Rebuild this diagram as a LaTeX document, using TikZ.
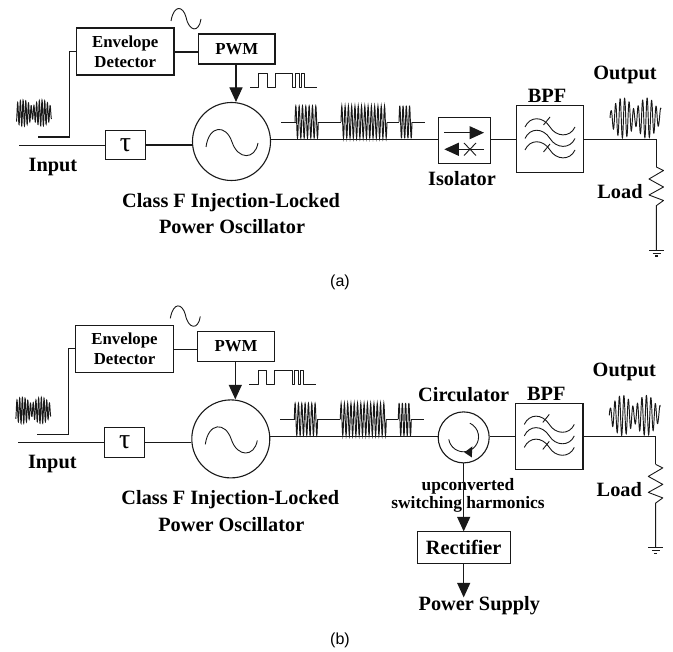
\documentclass[tikz,border=0pt]{standalone}
\usepackage{fontspec}
\setmainfont{Liberation Serif}
\newfontfamily\labelsans{Liberation Sans}
\usetikzlibrary{arrows.meta}
\tikzset{
  wire/.style={line width=1.1pt,draw=black!90},
  thinw/.style={line width=0.9pt,draw=black!90,line join=round},
  wavew/.style={line width=0.95pt,draw=black!90},
  blockbox/.style={draw=black!90,line width=1.1pt,inner sep=0pt,align=center,font=\fontsize{16.8}{20}\bfseries},
  lab/.style={inner sep=0pt,align=center,font=\fontsize{20.3}{26}\bfseries},
  headw/.style={wire,-{Triangle[length=14.5pt,width=13pt]}},
}
% burst from x0 to x1, n cycles
\newcommand{\waveburst}[3]{\draw[wavew] plot[domain=0:1,samples=169] ({#1+\x*(#2-#1)},{122-16*sin(360*#3*\x)});}
\newcommand{\scurve}[1]{\draw[thinw] (525,#1) .. controls (530,#1-11) and (543,#1-11) .. (550,#1) .. controls (556,#1+10) and (570,#1+11) .. (575,#1);}
\newcommand{\sharedpanel}{
  \node[blockbox,minimum width=97.5pt,minimum height=47pt] (env) at (125.25,51.5) {Envelope\\Detector};
  \node[blockbox,minimum width=76.5pt,minimum height=30pt] (pwm) at (236.75,49) {PWM};
  \node[blockbox,minimum width=40pt,minimum height=29.5pt,font=\fontsize{28}{28}\selectfont] (tau) at (125.5,145) {τ};
  \node[draw=black!90,line width=1.1pt,circle,minimum size=78pt,inner sep=0pt] (osc) at (231.5,141.5) {};
  \node[blockbox,minimum width=67.4pt,minimum height=66.3pt] (bpf) at (550,139) {};
  \coordinate (inl) at (19,145.4);
  \coordinate (det) at (38,137);
  \coordinate (corner) at (69.5,137);
  \coordinate (arrstart) at (236,64);
  \coordinate (loadtop) at (656.3,139.5);
  \coordinate (restop) at (656.3,167);
  \coordinate (resbot) at (656.3,205.7);
  \coordinate (gnd) at (656.3,250.5);
  \coordinate (envout) at (174,52);
  \draw[wire] (inl) -- (tau.west |- inl);
  \draw[wire] (tau.east) -- (osc.west |- tau.east);
  \draw[wire] (det) -- (corner) |- (env.west);
  \draw[wire] (envout) -- (pwm.west |- envout);
  \draw[headw] (pwm.south -| arrstart) -- (osc.north -| arrstart);
  \draw[wire] (bpf.east |- loadtop) -- (loadtop) -- (restop);
  \draw[thinw] (restop) -- (663.5,170.5) -- (649,179) -- (663.5,187) -- (649,195) -- (663.5,200.5) -- (resbot) -- (gnd);
  \draw[wire] (649,250.5) -- (663.5,250.5) (652.7,253.3) -- (660.7,253.3) (655,256) -- (658,256);
  % envelope sine
  \draw[thinw] (171,21) .. controls (174,4) and (183,6) .. (186,17) .. controls (189,32) and (199,33) .. (201,19);
  % oscillator sine
  \draw[thinw] (206,147) .. controls (209,125) and (226,124) .. (232,142) .. controls (238,160) and (255,160) .. (258,143);
  % pwm pulse train
  \draw[thinw] (250,87) -- (258.7,87) -- (258.7,73.5) -- (267,73.5) -- (267,87) -- (275.3,87) -- (275.3,73.5) -- (292.7,73.5) -- (292.7,87) -- (295.3,87) -- (295.3,73.5) -- (299,73.5) -- (299,87) -- (301,87) -- (301,73.5) -- (304,73.5) -- (304,87) -- (317,87);
  % input waveform
  \draw[wavew] plot[domain=16.5:51.5,samples=300] (\x,{113-(6+7*abs(cos(9.5*(\x-23))))*sin(133*(\x-17))});
  % switched bursts
  \draw[thinw] (281,122) -- (296,122) (318,122) -- (341,122) (387,122) -- (399,122) (412,122) -- (424.7,122);
  \waveburst{295}{318.3}{7}
  \waveburst{341}{387}{14}
  \waveburst{399}{412}{4}
  % output waveform
  \draw[wavew] plot[domain=610:661,samples=400] (\x,{118-(7+13*abs(cos(7.5*(\x-623))))*sin(80*(\x-610))});
  % filter symbols
  \scurve{127}\scurve{138.5}\scurve{150}
  \draw[thinw] (543.5,125) -- (550,117) (543.5,152) -- (550,144);
  % labels
  \node[lab] (inputlab) at (53,167) {Input};
  \node[lab] (classlab) at (231,202.5) {Class F Injection-Locked};
  \node[lab] (osclab) at (232,227) {Power Oscillator};
  \node[lab] (bpflab) at (547,96) {BPF};
  \node[lab] (outlab) at (625,75) {Output};
  \node[lab] (loadlab) at (620,192) {Load};
}
\begin{document}
\begin{tikzpicture}[x=1pt,y=-1pt]
\useasboundingbox (0,0) rectangle (673,652);
\fill[white] (0,0) rectangle (673,652);
\begin{scope}[name prefix=a-]
  \sharedpanel
  \node[blockbox,minimum width=52.4pt,minimum height=46.3pt] (iso) at (464.5,140.8) {};
  \draw[wire] (osc.east |- loadtop) -- (iso.west |- loadtop);
  \draw[wire] (iso.east |- loadtop) -- (bpf.west |- loadtop);
  \coordinate (t1) at (444.3,132.7);
  \coordinate (t2) at (484,132.7);
  \coordinate (b1) at (484,149.3);
  \coordinate (b2) at (444.3,149.3);
  \draw[headw] (t1) -- (t2);
  \draw[headw] (b1) -- (b2);
  \draw[thinw] (464,143) -- (476,155.5) (476,143) -- (464,155.5);
  \node[lab] (isolab) at (462,179) {Isolator};
\end{scope}
\node[inner sep=0pt,font=\fontsize{16}{18}\labelsans] (capa) at (340,282) {(a)};
\begin{scope}[shift={(-0.7,297.4)},name prefix=b-]
  \sharedpanel
  \node[draw=black!90,line width=1.1pt,circle,minimum size=51pt,inner sep=0pt] (circ) at (464.4,140) {};
  \node[blockbox,minimum width=93.3pt,minimum height=31.3pt,font=\fontsize{20.3}{24}\bfseries] (rect) at (464.4,250.2) {Rectifier};
  \node[lab] (circlab) at (464.4,97) {Circulator};
  \node[lab,font=\fontsize{17.4}{17.4}\bfseries] (uplab) at (468.7,198) {upconverted\\switching harmonics};
  \node[lab] (pslab) at (480,308) {Power Supply};
  \coordinate (psarrow) at (464.4,300);
  \draw[wire] (osc.east |- loadtop) -- (circ.west |- loadtop);
  \draw[wire] (circ.east |- loadtop) -- (bpf.west |- loadtop);
  \draw[thinw] (449.5,142) arc[start angle=170,end angle=-65,radius=15];
  \fill[black!90] (465,155) -- (473,149) -- (472.5,160) -- cycle;
  \draw[headw] (circ.south) -- (circ.south |- rect.north);
  \draw[headw] (rect.south) -- (psarrow);
\end{scope}
\node[inner sep=0pt,font=\fontsize{16}{18}\labelsans] (capb) at (340,640) {(b)};
\end{tikzpicture}
\end{document}
